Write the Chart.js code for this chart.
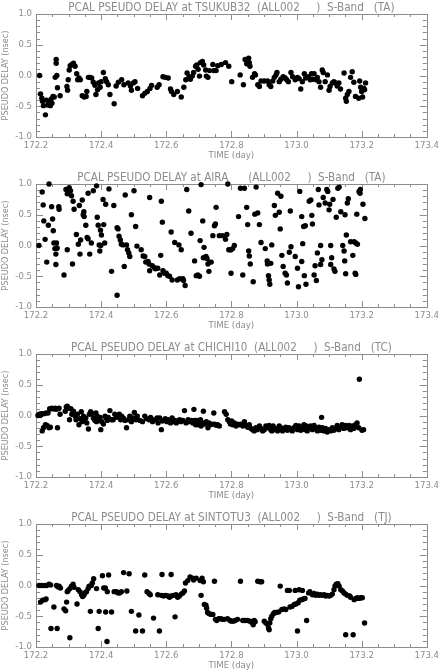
<!DOCTYPE html>
<html><head><meta charset="utf-8">
<script src="https://cdn.jsdelivr.net/npm/chart.js@4/dist/chart.umd.min.js"></script>
<style>
html,body{margin:0;padding:0;background:#fff;}
#wrap{position:relative;width:442px;height:672px;background:#fff;overflow:hidden;}
canvas{position:absolute;left:0;}
</style></head><body><div id="wrap">
<canvas id="c0" style="top:0px"></canvas>
<canvas id="c1" style="top:170px"></canvas>
<canvas id="c2" style="top:340px"></canvas>
<canvas id="c3" style="top:510px"></canvas>
</div>
<script>
// ---------- DATA ----------
const stations = ['TSUKUB32', 'AIRA', 'CHICHI10', 'SINTOTU3'];
const codes = ['TA', 'TA', 'TC', 'TJ'];
const xTickLabels = [172.2, 172.4, 172.6, 172.8, 173.0, 173.2, 173.4];
const yTickLabels = [-1.0, -0.5, 0.0, 0.5, 1.0];

const tTsukub = [172.211,172.214,172.218,172.220,172.223,172.229,172.232,172.236,172.240,172.244,172.247,172.249,172.252,172.256,172.259,172.262,172.262,172.264,172.266,172.274,
172.295,172.297,172.299,172.302,172.305,172.310,172.315,172.320,172.325,172.328,172.332,172.336,172.342,172.348,172.354,172.356,172.361,172.366,172.371,172.376,
172.381,172.384,172.389,172.392,172.397,172.400,172.407,172.413,172.417,172.422,172.427,172.440,172.446,172.453,172.463,172.470,172.483,172.490,172.493,172.499,
172.504,172.512,172.527,172.534,172.542,172.550,172.555,172.572,172.578,172.590,172.597,172.606,172.613,172.616,172.623,172.634,172.646,172.654,172.660,172.664,
172.670,172.674,172.680,172.684,172.690,172.694,172.698,172.702,172.705,172.711,172.715,172.721,172.723,172.728,172.733,172.743,172.746,172.753,172.758,172.769,
172.782,172.792,172.801,172.827,172.837,172.842,172.847,172.853,172.855,172.857,172.865,172.871,172.874,172.881,172.886,172.891,172.901,172.911,172.916,172.921,
172.927,172.932,172.937,172.940,172.947,172.952,172.959,172.965,172.970,172.975,172.983,172.988,172.996,173.003,173.008,173.013,173.018,173.024,173.028,173.037,
173.042,173.046,173.049,173.054,173.059,173.064,173.069,173.074,173.079,173.082,173.088,173.095,173.100,173.103,173.110,173.115,173.120,173.125,173.130,173.135,
173.146,173.151,173.153,173.156,173.161,173.166,173.171,173.176,173.181,173.191,173.194,173.197,173.200,173.203,173.207,173.209,173.212];
const vTsukub = [0.00,-0.30,-0.37,-0.42,-0.49,-0.64,-0.40,-0.48,-0.42,-0.49,-0.38,-0.45,-0.34,-0.35,-0.03,0.26,0.20,0.00,-0.20,-0.33,
-0.18,-0.24,-0.07,0.09,0.16,0.18,0.20,0.15,0.03,-0.07,-0.04,-0.07,-0.33,-0.35,-0.34,-0.26,-0.03,-0.03,-0.04,-0.11,
-0.16,-0.31,-0.23,-0.12,-0.19,-0.10,0.05,-0.05,-0.10,-0.15,-0.31,-0.46,-0.17,-0.11,-0.07,-0.15,-0.12,-0.17,-0.24,-0.12,
-0.10,-0.21,-0.33,-0.29,-0.26,-0.21,-0.16,-0.19,-0.15,-0.02,-0.03,-0.04,-0.22,-0.26,-0.31,-0.26,-0.35,-0.19,-0.07,0.04,
-0.02,-0.06,-0.01,0.05,0.15,0.17,0.10,-0.01,0.21,0.23,0.17,0.09,-0.01,-0.03,0.08,0.18,0.08,0.08,0.16,0.18,
0.21,0.15,-0.10,0.01,-0.15,0.26,0.19,0.28,0.21,0.15,-0.03,0.03,0.01,-0.15,-0.18,-0.09,-0.09,-0.09,-0.15,-0.18,
-0.09,-0.03,0.01,0.05,-0.10,-0.06,-0.02,-0.04,-0.07,-0.10,0.05,-0.02,-0.07,-0.03,-0.05,-0.22,-0.10,0.03,-0.04,-0.02,
-0.07,0.03,-0.06,0.03,-0.07,-0.03,-0.10,-0.19,0.09,0.05,-0.10,0.01,-0.24,-0.18,-0.12,-0.10,-0.12,-0.17,-0.12,-0.22,
0.04,-0.37,-0.42,-0.31,-0.26,-0.03,0.06,-0.11,-0.34,-0.37,-0.09,-0.19,-0.26,-0.35,-0.21,-0.23,-0.12];

const tAira = [172.209,172.219,172.222,172.224,172.228,172.233,172.238,172.240,172.248,172.251,172.253,172.255,172.258,172.261,172.263,172.263,172.261,172.265,172.270,172.271,
172.286,172.292,172.296,172.296,172.302,172.306,172.309,172.312,172.314,172.317,172.324,172.330,172.333,172.335,172.337,172.342,172.345,172.347,172.348,172.353,
172.357,172.360,172.360,172.365,172.370,172.376,172.386,172.388,172.391,172.394,172.396,172.398,172.399,172.401,172.406,172.408,172.411,172.414,172.424,172.432,
172.439,172.449,172.449,172.452,172.455,172.459,172.462,172.467,172.471,172.474,172.478,172.481,172.485,172.488,172.493,172.501,172.506,172.510,172.523,172.529,
172.534,172.537,172.544,172.547,172.549,172.549,172.557,172.564,172.567,172.574,172.580,172.583,172.585,172.588,172.590,172.595,172.600,172.605,172.610,172.615,
172.618,172.626,172.634,172.639,172.641,172.646,172.651,172.653,172.658,172.663,172.669,172.676,172.687,172.692,172.697,172.702,172.704,172.707,172.712,172.714,
172.716,172.722,172.725,172.728,172.731,172.733,172.738,172.789,
172.799,172.804,172.809,172.799,172.822,172.828,172.840,172.835,172.847,172.850,172.853,172.855,172.858,172.867,172.872,172.876,172.881,172.886,172.891,172.904,
172.910,172.911,172.914,172.916,172.918,172.921,172.924,172.932,172.935,172.942,172.947,172.952,172.950,172.955,172.959,172.965,172.969,172.972,172.978,172.981,
172.983,172.996,173.003,173.006,173.010,173.016,173.016,173.019,173.022,173.024,173.027,173.029,173.039,173.044,173.047,173.049,173.054,173.057,173.061,173.064,
173.067,173.069,173.074,173.074,173.078,173.082,173.088,173.093,173.096,173.100,173.102,173.105,173.105,173.108,173.112,173.115,173.118,173.122,173.127,173.131,
173.136,173.142,173.146,173.148,173.149,173.151,173.153,173.156,173.159,173.166,173.173,173.177,173.180,173.182,173.182,173.185,173.187,173.192,173.196,173.195,
173.204,173.210,
172.743,172.748,172.751,172.753,172.763,172.773,172.782,172.786,172.792,172.796];
const vAira = [0.00,0.87,0.66,0.40,0.10,-0.27,0.33,1.00,0.63,0.43,0.24,0.04,-0.05,-0.31,0.04,-0.05,-0.14,-0.04,0.63,0.59,
-0.48,0.91,0.84,-0.07,0.94,0.89,0.81,-0.30,0.72,0.59,0.18,0.02,0.65,-0.14,0.09,0.74,0.50,0.55,0.47,0.33,
0.13,0.11,0.85,-0.14,0.04,0.89,0.97,0.46,0.33,0.01,-0.09,0.25,0.00,0.17,0.75,0.34,0.04,0.67,0.92,-0.42,
0.65,-0.81,0.29,0.27,0.15,0.09,0.02,0.01,-0.34,0.82,0.01,-0.07,-0.12,-0.18,0.50,0.89,0.31,-0.01,-0.07,-0.17,
-0.18,-0.27,-0.26,-0.30,0.78,-0.41,-0.33,-0.36,-0.38,-0.37,-0.48,-0.16,0.72,0.38,-0.41,-0.45,-0.45,-0.49,-0.50,0.22,
-0.56,0.05,-0.56,0.01,-0.54,-0.07,-0.54,-0.57,-0.65,0.91,0.56,0.20,-0.25,-0.49,-0.48,-0.50,0.08,0.99,0.40,-0.20,
-0.03,-0.18,-0.21,-0.30,-0.42,-0.27,-0.27,1.00,
-0.07,-0.05,0.00,-0.45,0.47,0.93,0.93,-0.48,0.62,0.34,-0.09,-0.17,-0.30,-0.59,0.51,0.95,0.53,0.34,0.05,-0.05,
-0.25,-0.30,-0.49,-0.56,-0.63,-0.29,0.01,0.65,0.49,0.85,0.54,0.80,0.27,-0.16,-0.34,-0.45,-0.48,-0.61,-0.11,0.56,
-0.02,-0.18,-0.37,-0.67,0.88,0.47,-0.26,0.03,0.31,-0.49,0.32,-0.63,0.72,0.74,0.49,0.35,-0.48,-0.33,-0.57,-0.12,
0.91,0.66,0.00,-0.31,-0.23,0.78,0.69,0.91,0.88,0.58,0.67,0.00,-0.31,-0.20,0.75,-0.38,-0.42,0.46,0.93,0.95,
0.55,0.00,-0.09,-0.25,0.50,-0.46,0.17,0.69,0.76,0.06,-0.16,0.06,-0.45,-0.47,0.04,0.51,0.02,0.88,0.91,0.85,
0.67,0.44,
0.16,0.32,0.35,0.62,0.16,0.16,0.10,0.18,-0.07,-0.07];

const tChichi = [172.206,172.210,172.213,172.216,172.219,172.221,172.223,172.225,172.229,172.231,172.234,172.237,172.240,172.242,172.244,172.246,172.249,172.252,172.256,172.259,
172.262,172.266,172.268,172.271,172.274,172.290,172.293,172.296,172.300,172.303,172.307,172.310,172.315,172.320,172.323,172.327,172.332,172.335,172.339,172.341,
172.346,172.349,172.353,172.356,172.361,172.364,172.368,172.371,172.376,172.381,172.384,172.386,172.388,172.392,172.397,172.399,172.402,172.407,172.412,172.415,
172.419,172.422,172.427,172.432,172.437,172.442,172.448,172.453,172.456,172.460,172.463,172.468,172.473,172.478,172.483,172.488,172.493,172.498,172.502,172.507,
172.511,172.519,172.527,172.534,172.539,172.547,172.552,172.558,172.565,172.572,172.575,172.580,172.585,172.588,172.592,172.597,172.602,172.605,172.613,172.618,
172.621,172.626,172.631,172.636,172.641,172.646,172.651,172.656,172.661,172.667,172.672,172.677,172.682,172.685,172.687,172.690,172.694,172.697,172.702,172.705,
172.707,172.712,172.714,172.717,172.723,172.728,172.731,172.736,172.741,172.746,172.748,172.753,172.758,172.763,172.779,172.784,172.789,172.794,172.797,172.801,
172.804,172.809,172.814,172.819,172.824,172.829,172.835,172.840,172.845,172.850,172.855,172.860,172.865,172.870,172.875,172.880,172.886,172.891,172.896,172.901,
172.906,172.911,172.916,172.921,172.924,172.928,172.931,172.936,172.942,172.947,172.952,172.957,172.962,172.967,172.972,172.977,172.982,172.987,172.992,172.998,
173.003,173.008,173.013,173.018,173.023,173.026,173.030,173.033,173.038,173.043,173.049,173.054,173.059,173.064,173.069,173.074,173.077,173.079,173.084,173.089,
173.094,173.099,173.105,173.110,173.115,173.120,173.125,173.130,173.135,173.140,173.145,173.150,173.155,173.161,173.166,173.171,173.176,173.181,173.186,173.191,
173.193,173.201,173.206];
const vChichi = [0.00,0.02,0.00,0.03,-0.25,0.03,-0.20,0.03,-0.15,0.04,-0.16,0.04,-0.20,0.11,-0.19,0.11,0.12,0.11,0.11,0.12,
0.10,-0.20,0.11,0.12,0.02,0.07,0.14,0.15,0.12,-0.07,0.11,0.02,0.07,-0.01,-0.07,0.02,-0.15,-0.05,0.06,-0.10,
-0.01,-0.08,-0.04,-0.12,-0.22,0.02,0.06,0.03,-0.04,-0.08,0.04,-0.10,-0.01,-0.08,-0.03,-0.23,-0.10,-0.14,-0.01,-0.04,
-0.08,-0.03,0.08,-0.07,-0.07,0.02,-0.03,-0.01,0.02,-0.07,-0.01,-0.04,-0.08,-0.20,-0.07,-0.01,-0.10,-0.04,0.05,-0.07,
-0.01,-0.08,-0.10,-0.01,-0.05,-0.07,-0.03,-0.10,-0.07,-0.04,-0.12,-0.04,-0.23,-0.09,-0.08,-0.05,-0.10,-0.07,-0.12,-0.04,
-0.10,-0.08,-0.12,-0.09,-0.07,-0.10,-0.08,0.08,-0.12,-0.07,-0.10,-0.08,-0.12,0.10,-0.08,-0.15,-0.08,-0.15,-0.10,-0.07,
-0.17,-0.12,0.07,-0.14,-0.10,-0.20,-0.12,-0.15,-0.14,0.04,-0.14,-0.16,-0.15,-0.17,0.06,0.02,-0.07,-0.10,-0.14,-0.09,
-0.15,-0.12,-0.17,-0.14,-0.15,-0.14,-0.17,-0.10,-0.16,-0.19,-0.15,-0.21,-0.23,-0.25,-0.20,-0.23,-0.17,-0.21,-0.25,-0.23,
-0.17,-0.20,-0.16,-0.23,-0.25,-0.17,-0.23,-0.21,-0.25,-0.17,-0.20,-0.25,-0.21,-0.19,-0.24,-0.20,-0.23,-0.25,-0.20,-0.16,
-0.23,-0.17,-0.24,-0.20,-0.15,-0.23,-0.17,-0.25,-0.21,-0.17,-0.23,-0.16,-0.21,-0.25,-0.19,-0.24,-0.03,-0.20,-0.25,-0.21,
-0.27,-0.23,-0.25,-0.20,-0.24,-0.21,-0.16,-0.23,-0.19,-0.15,-0.21,-0.16,-0.20,-0.16,-0.23,-0.17,-0.21,-0.15,-0.12,-0.20,
0.59,-0.24,-0.23];

const tSintotu = [172.209,172.217,172.226,172.233,172.214,172.220,172.228,172.231,172.240,172.245,172.246,172.255,172.263,172.267,172.271,172.275,172.265,172.286,172.291,172.294,
172.296,172.299,172.304,172.304,172.309,172.314,172.317,172.326,172.330,172.335,172.340,172.343,172.347,172.350,172.355,172.360,172.363,172.367,172.370,172.373,
172.377,172.386,172.391,172.394,172.404,172.408,172.413,172.414,172.418,172.419,172.423,172.432,172.440,172.447,172.452,172.457,172.462,172.469,172.479,172.486,
172.493,172.506,172.516,172.527,172.534,172.541,172.547,172.551,172.561,172.574,172.579,172.585,172.587,172.592,172.598,172.605,172.610,172.615,172.615,172.622,
172.627,172.630,172.635,172.640,172.646,172.651,172.656,172.659,172.666,172.673,172.681,172.684,172.692,172.704,172.707,172.710,172.714,172.717,172.722,172.724,
172.727,172.732,172.738,172.743,172.748,172.751,172.755,172.761,172.768,172.773,172.778,172.788,172.796,
172.800,172.806,172.812,172.819,172.828,172.835,172.842,172.850,172.857,172.863,172.867,172.870,172.873,172.881,172.888,172.893,172.901,172.906,172.911,172.914,
172.916,172.918,172.921,172.924,172.929,172.933,172.937,172.945,172.950,172.955,172.962,172.967,172.972,172.978,172.980,172.986,172.993,172.996,172.998,173.003,
173.005,173.008,173.010,173.016,173.018,173.021,173.026,173.031,173.037,173.041,173.049,173.054,173.059,173.064,173.069,173.074,173.080,173.085,173.090,173.095,
173.100,173.105,173.110,173.115,173.118,173.122,173.127,173.131,173.136,173.141,173.146,173.151,173.151,173.156,173.163,173.166,173.174,173.177,173.182,173.187,
173.192,173.197,173.202,173.209];
const vSintotu = [0.00,0.00,0.00,0.00,-0.27,-0.24,-0.23,-0.22,0.02,0.01,-0.70,-0.35,0.00,-0.02,-0.01,-0.04,-0.70,-0.38,-0.41,-0.27,
-0.10,-0.08,-0.85,-0.05,-0.01,0.02,-0.03,-0.30,-0.07,-0.10,-0.15,-0.18,-0.16,-0.12,-0.10,-0.05,-0.01,-0.42,0.00,0.04,
0.11,-0.05,-0.70,-0.42,0.16,-0.04,-0.04,-0.43,-0.91,-0.10,0.17,-0.43,-0.10,-0.10,-0.12,-0.12,-0.10,0.21,-0.09,0.19,
-0.42,-0.74,-0.48,-0.74,0.17,-0.10,-0.13,-0.15,-0.53,-0.15,-0.74,-0.16,0.18,-0.17,-0.16,-0.17,-0.19,0.18,-0.17,-0.16,
-0.51,-0.15,-0.19,-0.17,-0.14,-0.12,-0.09,0.04,0.08,0.14,0.12,0.09,0.12,0.08,-0.16,0.12,0.06,-0.31,-0.32,-0.37,
-0.44,-0.46,-0.47,-0.47,0.07,-0.55,-0.57,-0.54,-0.54,-0.55,-0.55,-0.54,-0.57,
-0.58,-0.58,-0.57,-0.55,0.07,-0.57,-0.57,-0.57,-0.58,-0.60,-0.64,-0.57,-0.59,0.07,0.06,0.06,-0.58,-0.61,-0.63,-0.69,
-0.72,-0.61,-0.54,-0.50,-0.46,-0.44,-0.44,-0.43,-0.01,-0.39,-0.38,-0.39,-0.08,-0.08,-0.35,-0.34,-0.31,-0.08,-0.30,-0.74,
-0.28,-0.07,-0.24,-0.23,-0.08,-0.22,-0.21,-0.57,-0.12,-0.10,-0.15,-0.13,-0.16,-0.14,-0.16,-0.15,-0.16,-0.15,-0.17,-0.16,
-0.17,-0.16,-0.14,-0.07,-0.01,0.02,0.03,-0.01,-0.07,-0.09,-0.12,-0.14,-0.80,-0.16,-0.17,-0.19,-0.80,-0.23,-0.21,-0.20,
-0.21,-0.20,-0.20,-0.61];

const tSeries = [tTsukub, tAira, tChichi, tSintotu];
const vSeries = [vTsukub, vAira, vChichi, vSintotu];

// ---------- STYLE ----------
const GRAY = '#8c8c8c';
const FONT = "'Liberation Sans Narrow','DejaVu Sans Condensed','Liberation Sans',sans-serif";

const frame = {
  id: 'frame',
  beforeDatasetsDraw(chart) {
    const {ctx, chartArea: a, scales: {x, y}} = chart;
    ctx.save();
    ctx.strokeStyle = GRAY; ctx.lineWidth = 1;
    ctx.strokeRect(Math.round(a.left) + 0.5, Math.round(a.top) + 0.5,
                   Math.round(a.right - a.left), Math.round(a.bottom - a.top));
    ctx.beginPath();
    const xMin = xTickLabels[0], xMax = xTickLabels[xTickLabels.length - 1];
    const nx = Math.round((xMax - xMin) / 0.05);
    for (let i = 0; i <= nx; i++) {
      const px = Math.round(x.getPixelForValue(xMin + i * 0.05)) + 0.5;
      const len = i % 4 === 0 ? 6 : 3;
      ctx.moveTo(px, a.bottom); ctx.lineTo(px, a.bottom - len);
      ctx.moveTo(px, a.top); ctx.lineTo(px, a.top + len);
    }
    for (let i = 0; i <= 20; i++) {
      const py = Math.round(y.getPixelForValue(-1 + i * 0.1)) + 0.5;
      const len = i % 5 === 0 ? 7 : 4;
      ctx.moveTo(a.left, py); ctx.lineTo(a.left + len, py);
      ctx.moveTo(a.right, py); ctx.lineTo(a.right - len, py);
    }
    ctx.stroke();
    // title
    ctx.fillStyle = GRAY;
    ctx.font = "11.6px " + FONT;
    ctx.textAlign = 'center'; ctx.textBaseline = 'middle';
    ctx.fillText(chart.options.plugins.frame.title, (a.left + a.right) / 2, 7.5);
    ctx.restore();
  }
};

function makeChart(i) {
  const canvas = document.getElementById('c' + i);
  const title = 'PCAL PSEUDO DELAY at ' + stations[i].padEnd(8, ' ') + '  (ALL002     )  S-Band   (' + codes[i] + ')';
  const pts = tSeries[i].map((t, k) => ({x: t, y: vSeries[i][k]}));
  return new Chart(canvas, {
    type: 'scatter',
    data: {datasets: [{data: pts, backgroundColor: '#000', borderWidth: 0, pointRadius: 2.7, pointHoverRadius: 2.7, clip: false}]},
    options: {
      responsive: false, animation: false, devicePixelRatio: 1,
      layout: {padding: {top: 14, right: 13, left: 0, bottom: 0}},
      plugins: {legend: {display: false}, tooltip: {enabled: false}, frame: {title}},
      scales: {
        x: {
          type: 'linear', min: xTickLabels[0], max: xTickLabels[xTickLabels.length - 1],
          afterBuildTicks: s => { s.ticks = xTickLabels.map(v => ({value: v})); },
          afterFit: s => { s.height = 33; },
          grid: {display: false, drawTicks: false}, border: {display: false},
          ticks: {color: GRAY, font: {size: 9.5, family: FONT}, padding: 3, maxRotation: 0, autoSkip: false,
                  callback: v => Number(v).toFixed(1)},
          title: {display: true, text: 'TIME (day)', color: GRAY, font: {size: 9.5, family: FONT}, padding: {top: 0, bottom: 9}}
        },
        y: {
          type: 'linear', min: -1, max: 1,
          afterBuildTicks: s => { s.ticks = yTickLabels.map(v => ({value: v})); },
          afterFit: s => { s.width = 36; },
          grid: {display: false, drawTicks: false}, border: {display: false},
          ticks: {color: GRAY, font: {size: 9.5, family: FONT}, padding: 4,
                  callback: v => Number(v).toFixed(1)},
          title: {display: true, text: 'PSEUDO DELAY (nsec)', color: GRAY, font: {size: 9, family: FONT}, padding: {top: 0, bottom: 0}}
        }
      }
    },
    plugins: [frame]
  });
}
for (let i = 0; i < 4; i++) {
  const c = document.getElementById('c' + i);
  c.width = 442; c.height = 170; c.style.width = '442px'; c.style.height = '170px';
  makeChart(i);
}
</script>
</body></html>
